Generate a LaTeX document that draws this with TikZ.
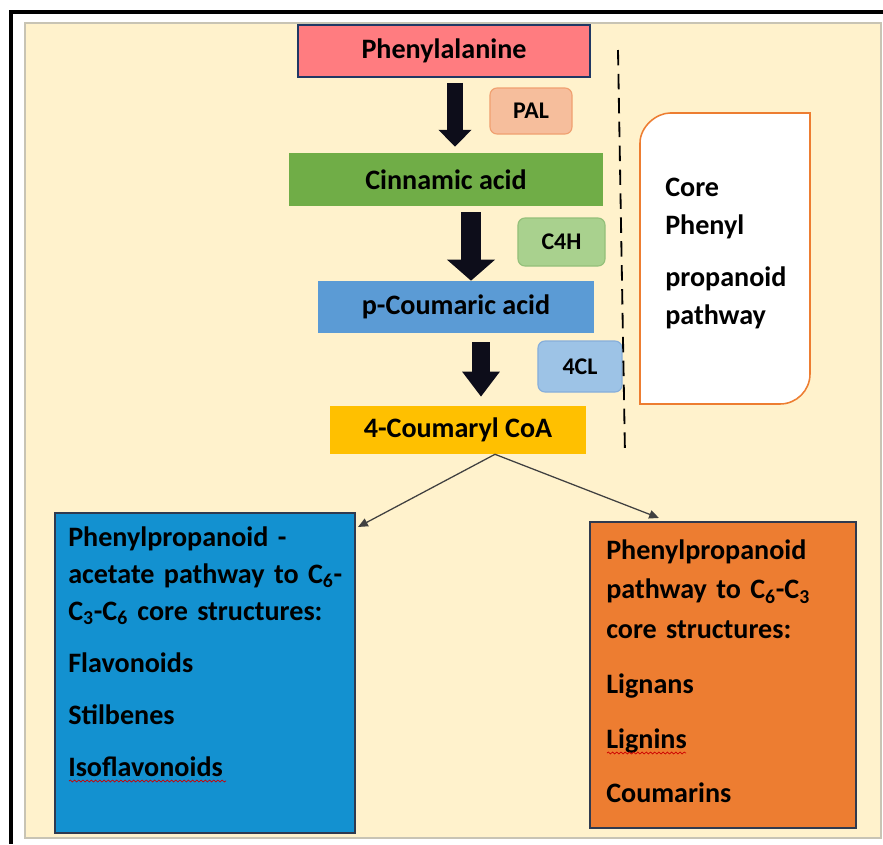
\documentclass[tikz,border=0pt]{standalone}
\usepackage{fontspec}
\setmainfont{Carlito}
\usetikzlibrary{arrows.meta,calc,decorations.pathmorphing}
\definecolor{bgcream}{HTML}{FFF2CC}
\definecolor{framegray}{HTML}{C8C4B4}
\definecolor{navyline}{HTML}{203864}
\definecolor{phered}{HTML}{FF7C80}
\definecolor{cingreen}{HTML}{70AD47}
\definecolor{coublue}{HTML}{5B9BD5}
\definecolor{coagold}{HTML}{FFC000}
\definecolor{palfill}{HTML}{F6BE9C}
\definecolor{paldraw}{HTML}{F0A070}
\definecolor{cfhfill}{HTML}{A9D18E}
\definecolor{cfhdraw}{HTML}{94C07A}
\definecolor{fclfill}{HTML}{9DC3E6}
\definecolor{fcldraw}{HTML}{86AEDB}
\definecolor{acetblue}{HTML}{1391D0}
\definecolor{pathorange}{HTML}{ED7D31}
\definecolor{panelborder}{HTML}{2F3A4F}
\definecolor{linkgray}{HTML}{404040}
\definecolor{arrowblack}{HTML}{0D0D1A}
\tikzset{
    stepbox/.style={inner sep=0pt, font=\bfseries\fontsize{20}{24}\selectfont},
    enzyme/.style={rounded corners=5pt, line width=0.8pt, inner sep=0pt,
      font=\bfseries\fontsize{17}{20}\selectfont},
    bigarrow/.style n args={3}{draw=arrowblack, line width=#1,
      -{Triangle[width=#2,length=#3]}},
    link/.style={draw=linkgray, line width=0.9pt, -{Triangle[length=7pt,width=6pt]}},
    panel/.style={draw=panelborder, line width=1.4pt},
    listtext/.style={anchor=north west, inner sep=0pt, align=left},
    squiggle/.style={draw=red!80!black, line width=0.5pt, decorate,
      decoration={snake, amplitude=0.7pt, segment length=3pt}},
  }
\begin{document}
\begin{tikzpicture}[x=0.025cm,y=-0.025cm]
				  \useasboundingbox (0,0) rectangle (883,844);
				  %frame and page
				  \draw[line width=2.2pt] (883,12) -- (11,12) -- (11,844);
				  \draw[fill=bgcream, draw=framegray, line width=0.8pt] (25,23) rectangle (881,838);
				  
				  %main chain
				  \node[stepbox, fill=phered, draw=navyline, line width=1.4pt,
				        minimum width=7.3cm, minimum height=1.3cm] (phe) at (444,51) {Phenylalanine};
				  \node[stepbox, fill=cingreen, minimum width=7.85cm, minimum height=1.325cm] (cin) at (446,179.5) {Cinnamic acid};
				  \node[stepbox, fill=coublue, minimum width=6.9cm, minimum height=1.3cm] (pcou) at (456,307) {p-Coumaric acid};
				  \node[stepbox, fill=coagold, minimum width=6.4cm, minimum height=1.2cm] (cou) at (458,430) {4-Coumaryl CoA};
				  
				  %enzymes
				  \node[enzyme, fill=palfill, draw=paldraw, minimum width=2.05cm, minimum height=1.15cm] (pal) at (531,111) {PAL};
				  \node[enzyme, fill=cfhfill, draw=cfhdraw, minimum width=2.175cm, minimum height=1.2cm] (cfh) at (561.5,242) {C4H};
				  \node[enzyme, fill=fclfill, draw=fcldraw, minimum width=2.1cm, minimum height=1.275cm] (fcl) at (580,366.5) {4CL};
				  
				  \draw[bigarrow={11.4pt}{22.8pt}{12pt}] ($(phe.south)+(11,5)$) -- ($(cin.north)+(9,-6)$);
				  \draw[bigarrow={14.2pt}{33.4pt}{15pt}] ($(cin.south)+(25,6)$) -- ($(pcou.north)+(15,0)$);
				  \draw[bigarrow={12.8pt}{25.6pt}{17.8pt}] ($(pcou.south)+(25,9)$) -- ($(cou.north)+(23,-9)$);
				  
				  %core pathway box
				  \draw[black, line width=1.3pt, dash pattern=on 11pt off 6pt] (618,50) -- (625,455);
				  \draw[fill=white, draw=pathorange, line width=1.1pt]
				        (640,143) .. controls (640,126.5) and (656.5,113) .. (670,113) -- (810,113)
				        -- (810,374) .. controls (810,390.5) and (796.5,404) .. (780,404) -- (640,404) -- cycle;
				  \node[listtext, font=\bfseries\fontsize{20}{27}\selectfont] (core) at (665,178)
				        {Core\\Phenyl\\[10pt]propanoid\\pathway};
				  
				  %branches
				  \node[panel, fill=acetblue, minimum width=7.5cm, minimum height=8cm] (lbox) at (205,673) {};
				  \node[panel, fill=pathorange, minimum width=6.65cm, minimum height=7.65cm] (rbox) at (723,675) {};
				  \node[listtext, text width=7cm, font=\bfseries\fontsize{20}{26}\selectfont] (ltext)
				        at ($(lbox.north west)+(14,15)$)
				        {Phenylpropanoid -\\acetate pathway to C\textsubscript{6}-\\C\textsubscript{3}-C\textsubscript{6} core structures:\\[11pt]Flavonoids\\[11pt]Stilbenes\\[11pt]Isoflavonoids};
				  \node[listtext, text width=6cm, font=\bfseries\fontsize{20}{28.4}\selectfont] (rtext)
				        at ($(rbox.north west)+(17,18)$)
				        {Phenylpropanoid\\pathway to C\textsubscript{6}-C\textsubscript{3}\\core structures:\\[10.5pt]Lignans\\[10.5pt]Lignins\\[10.5pt]Coumarins};
				  \draw[squiggle] (69,781) -- (226,781);
				  \draw[squiggle] (607,753) -- (686,753);
				  
				  \coordinate (split) at ($(cou.south)+(37,0)$);
				  \draw[link] (split) -- ($(lbox.north east)+(2,15)$);
				  \draw[link] (split) -- ($(rbox.north west)+(70,-3)$);
				  \end{tikzpicture}
\end{document}
